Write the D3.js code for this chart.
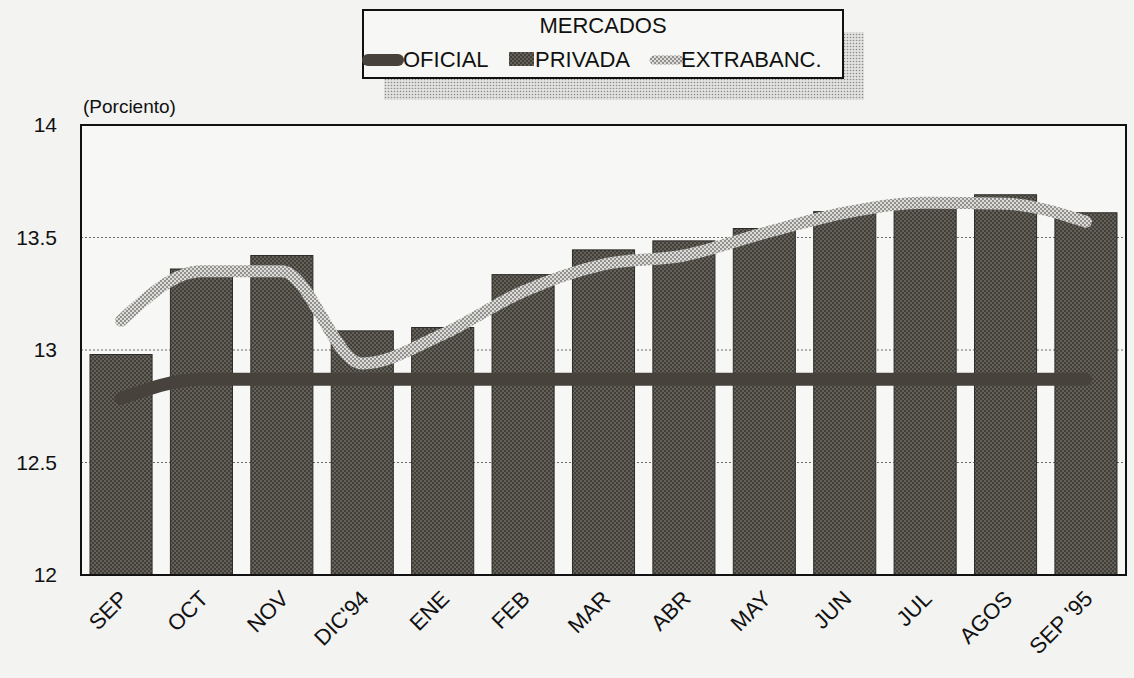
<!DOCTYPE html>
<html>
<head>
<meta charset="utf-8">
<script src="https://cdn.jsdelivr.net/npm/d3@7"></script>
<style>
  body { margin: 0; background: #f3f3f1; }
  svg { display: block; font-family: "Liberation Sans", Arial, sans-serif; }
</style>
</head>
<body>
<svg width="1134" height="678"></svg>
<script>
// months on the x axis
var months = ["SEP", "OCT", "NOV", "DIC'94", "ENE", "FEB", "MAR", "ABR", "MAY", "JUN", "JUL", "AGOS", "SEP '95"];

// series (percent)
var privada = [12.98, 13.36, 13.42, 13.085, 13.10, 13.335, 13.445, 13.485, 13.54, 13.615, 13.665, 13.69, 13.61];
var oficial = [12.785, 12.87, 12.87, 12.87, 12.87, 12.87, 12.87, 12.87, 12.87, 12.87, 12.87, 12.87, 12.87];
var extrabanc = [13.13, 13.35, 13.35, 12.94, 13.07, 13.26, 13.38, 13.42, 13.52, 13.61, 13.655, 13.65, 13.57];

var yTicks = [12, 12.5, 13, 13.5, 14];
var gridTicks = [12.5, 13, 13.5];

drawChart();

function drawChart() {
    var svg = d3.select("svg");

    var left = 81, right = 1126, plotTop = 125, bottom = 575;

    // dither patterns to look like the printed halftone
    var defs = svg.append("defs");
    var pBar = defs.append("pattern").attr("id", "pbar")
        .attr("width", 4).attr("height", 4).attr("patternUnits", "userSpaceOnUse");
    pBar.append("rect").attr("width", 4).attr("height", 4).attr("fill", "#423f39");
    pBar.append("circle").attr("cx", 1).attr("cy", 1).attr("r", 0.75).attr("fill", "#959389");
    pBar.append("circle").attr("cx", 3).attr("cy", 3).attr("r", 0.75).attr("fill", "#959389");

    var pExt = defs.append("pattern").attr("id", "pext")
        .attr("width", 4).attr("height", 4).attr("patternUnits", "userSpaceOnUse");
    pExt.append("rect").attr("width", 4).attr("height", 4).attr("fill", "#dcdcda");
    pExt.append("circle").attr("cx", 1).attr("cy", 1).attr("r", 1).attr("fill", "#7a7875");
    pExt.append("circle").attr("cx", 3).attr("cy", 3).attr("r", 1).attr("fill", "#7a7875");

    var pShadow = defs.append("pattern").attr("id", "pshadow")
        .attr("width", 3).attr("height", 3).attr("patternUnits", "userSpaceOnUse");
    pShadow.append("rect").attr("width", 3).attr("height", 3).attr("fill", "#e2e2e0");
    pShadow.append("circle").attr("cx", 1.5).attr("cy", 1.5).attr("r", 0.8).attr("fill", "#8c8c8a");

    // scales
    var x = d3.scaleBand()
        .domain(months)
        .range([left, right])
        .paddingInner(0.228)
        .paddingOuter(0.112);

    var y = d3.scaleLinear()
        .domain([12, 14])
        .range([bottom, plotTop]);

    // plot background
    svg.append("rect")
        .attr("x", left).attr("y", plotTop)
        .attr("width", right - left).attr("height", bottom - plotTop)
        .attr("fill", "#f7f7f5");

    // dotted grid
    svg.append("g").selectAll("line")
        .data(gridTicks)
        .enter().append("line")
        .attr("x1", left).attr("x2", right)
        .attr("y1", function(d) { return y(d); })
        .attr("y2", function(d) { return y(d); })
        .attr("stroke", "#6a6a68")
        .attr("stroke-width", 1)
        .attr("stroke-dasharray", "2,2");

    // bars (PRIVADA)
    svg.append("g").selectAll("rect")
        .data(privada)
        .enter().append("rect")
        .attr("x", function(d, i) { return x(months[i]); })
        .attr("y", function(d) { return y(d); })
        .attr("width", x.bandwidth())
        .attr("height", function(d) { return y(12) - y(d); })
        .attr("fill", "url(#pbar)")
        .attr("stroke", "#2e2c28")
        .attr("stroke-width", 1);

    var line = d3.line()
        .x(function(d, i) { return x(months[i]) + x.bandwidth() / 2; })
        .y(function(d) { return y(d); })
        .curve(d3.curveMonotoneX);

    svg.append("path")
        .datum(oficial)
        .attr("d", line)
        .attr("fill", "none")
        .attr("stroke", "#47433c")
        .attr("stroke-width", 13)
        .attr("stroke-linecap", "round");

    svg.append("path")
        .datum(extrabanc)
        .attr("d", line)
        .attr("fill", "none")
        .attr("stroke", "url(#pext)")
        .attr("stroke-width", 12)
        .attr("stroke-linecap", "round")
        .attr("stroke-linejoin", "round");

    // frame
    svg.append("rect")
        .attr("x", left).attr("y", plotTop)
        .attr("width", right - left).attr("height", bottom - plotTop)
        .attr("fill", "none")
        .attr("stroke", "#111")
        .attr("stroke-width", 2);

    // y axis
    var yAxis = svg.append("g")
        .attr("transform", "translate(" + left + ",0)")
        .call(d3.axisLeft(y).tickValues(yTicks).tickSize(0).tickPadding(24)
            .tickFormat(function(d) { return d; }));
    yAxis.select(".domain").remove();
    yAxis.selectAll("text")
        .attr("font-size", 21)
        .attr("font-family", "'Liberation Sans', Arial, sans-serif")
        .attr("fill", "#111");

    svg.append("text")
        .attr("x", left + 2).attr("y", 113)
        .attr("font-size", 19)
        .attr("fill", "#111")
        .text("(Porciento)");

    // x axis labels, rotated
    var xAxis = svg.append("g")
        .attr("transform", "translate(0," + bottom + ")")
        .call(d3.axisBottom(x).tickSize(0));
    xAxis.select(".domain").remove();
    xAxis.selectAll("text")
        .attr("font-size", 22)
        .attr("font-family", "'Liberation Sans', Arial, sans-serif")
        .attr("fill", "#111")
        .attr("text-anchor", "end")
        .attr("y", 0).attr("dy", 0)
        .attr("transform", "translate(8,25) rotate(-45)");

    // legend
    var lg = svg.append("g");
    lg.append("rect")
        .attr("x", 384).attr("y", 32).attr("width", 480).attr("height", 68)
        .attr("fill", "url(#pshadow)");
    lg.append("rect")
        .attr("x", 363).attr("y", 10).attr("width", 480).attr("height", 68)
        .attr("fill", "#f7f7f5")
        .attr("stroke", "#111")
        .attr("stroke-width", 2);
    lg.append("text")
        .attr("x", 603).attr("y", 33)
        .attr("text-anchor", "middle")
        .attr("font-size", 22)
        .attr("fill", "#111")
        .text("MERCADOS");

    lg.append("line")
        .attr("x1", 368).attr("x2", 398).attr("y1", 60).attr("y2", 60)
        .attr("stroke", "#47433c").attr("stroke-width", 12).attr("stroke-linecap", "round");
    lg.append("text")
        .attr("x", 403).attr("y", 67)
        .attr("font-size", 22).attr("fill", "#111")
        .text("OFICIAL");

    lg.append("rect")
        .attr("x", 509).attr("y", 52).attr("width", 25).attr("height", 14)
        .attr("fill", "url(#pbar)");
    lg.append("text")
        .attr("x", 535).attr("y", 67)
        .attr("font-size", 22).attr("fill", "#111")
        .text("PRIVADA");

    lg.append("line")
        .attr("x1", 654).attr("x2", 679).attr("y1", 60).attr("y2", 60)
        .attr("stroke", "url(#pext)").attr("stroke-width", 9).attr("stroke-linecap", "round");
    lg.append("text")
        .attr("x", 681).attr("y", 67)
        .attr("font-size", 22).attr("fill", "#111")
        .text("EXTRABANC.");
}
</script>
</body>
</html>
